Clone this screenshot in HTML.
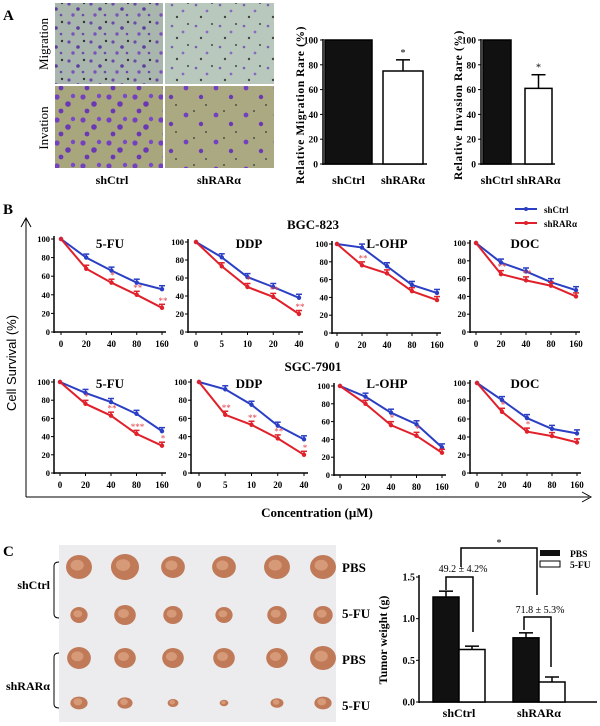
<!DOCTYPE html>
<html><head><meta charset="utf-8"><style>
html,body{margin:0;padding:0;background:#fff}
svg{display:block;font-family:"Liberation Serif","DejaVu Serif",serif;font-weight:bold}
</style></head><body>
<svg id="fig" width="600" height="726" viewBox="0 0 600 726" xmlns="http://www.w3.org/2000/svg">
<defs>
<pattern id="migA" width="22" height="19" patternUnits="userSpaceOnUse"><rect width="22" height="19" fill="#a9b6ae"/><circle cx="3" cy="4" r="1.6" fill="#6a4aa8"/><circle cx="12" cy="9" r="1.8" fill="#5b3d9c"/><circle cx="18" cy="3" r="1.2" fill="#333"/><circle cx="7" cy="15" r="1.7" fill="#7a55b8"/><circle cx="17" cy="15" r="1.3" fill="#6a4aa8"/></pattern>
<pattern id="migB" width="24" height="21" patternUnits="userSpaceOnUse"><rect width="24" height="21" fill="#b9c8bd"/><circle cx="4" cy="5" r="1.3" fill="#7a60b0"/><circle cx="15" cy="11" r="1.4" fill="#8a6ac0"/><circle cx="20" cy="3" r="1" fill="#444"/><circle cx="9" cy="17" r="1.2" fill="#444"/></pattern>
<pattern id="invA" width="26" height="23" patternUnits="userSpaceOnUse"><rect width="26" height="23" fill="#a7a67c"/><circle cx="5" cy="5" r="2.6" fill="#7540c0"/><circle cx="16" cy="12" r="2.8" fill="#6a38b5"/><circle cx="21" cy="4" r="2.2" fill="#7a48c8"/><circle cx="9" cy="19" r="2.4" fill="#6a38b5"/></pattern>
<pattern id="invB" width="30" height="27" patternUnits="userSpaceOnUse"><rect width="30" height="27" fill="#aaa981"/><circle cx="6" cy="7" r="2.4" fill="#7540c0"/><circle cx="21" cy="16" r="2.2" fill="#6a38b5"/><circle cx="14" cy="3" r="0.9" fill="#333"/><circle cx="26" cy="24" r="0.9" fill="#333"/></pattern>
</defs>
<g id="root"></g>
</svg>
<script>
// ---- Panel A data ----
const aCats = ["shCtrl", "shRARα"];
const migVals = [100, 75];
const migErr = [0, 84];
const invVals = [100, 61];
const invErr = [0, 72];
const aTicks = [0, 20, 40, 60, 80, 100];
// ---- Panel B data ----
const concStd = ["0", "20", "40", "80", "160"];
const concDDP = ["0", "5", "10", "20", "40"];
const bTicks = [0, 20, 40, 60, 80, 100];
const bgcTitles = ["5-FU", "DDP", "L-OHP", "DOC"];
const bgcCtrl = [[100,80,66,53,46],[100,83,61,50,38],[100,96,75,54,45],[100,78,68,56,47]];
const bgcKd = [[100,68,53,40,26],[100,73,50,39,20],[100,76,67,47,37],[100,65,58,52,40]];
const bgcStars = [["","","*","**","**"],["","","*","**","**"],["","**","","",""],["","**","**","",""]];
const sgcCtrl = [[100,88,78,65,46],[100,92,75,52,37],[100,88,70,57,31],[100,81,61,49,44]];
const sgcKd = [[100,76,63,43,30],[100,64,53,38,20],[100,80,56,44,25],[100,68,46,41,34]];
const sgcStars = [["","*","**","***","*"],["","**","**","**","*"],["","","*","*",""],["","*","*","",""]];
// ---- Panel C data ----
const cCats = ["shCtrl", "shRARα"];
const cPBS = [1.26, 0.77];
const cPBSerr = [1.33, 0.83];
const cFU = [0.63, 0.24];
const cFUerr = [0.67, 0.30];
const cTicks = ["0.0", "0.5", "1.0", "1.5"];

const NS="http://www.w3.org/2000/svg";
const root=document.getElementById('root');
function mk(tag,attrs,parent,txt){const e=document.createElementNS(NS,tag);for(const k in attrs)e.setAttribute(k,attrs[k]);if(txt!==undefined)e.textContent=txt;(parent||root).appendChild(e);return e;}
function grp(name){const g=mk('g',{});return g;}

[["A",3,20],["B",3,214],["C",3,556]].forEach(l=>{const t=mk('text',{x:l[1],y:l[2],'font-size':15},root,l[0]);});

// Micrographs
const mg=grp('micrographs');
[["migA",55,3,108,81],["migB",165,3,109,81],["invA",55,86,108,82],["invB",165,86,109,82]].forEach((m,i)=>{const r=mk('rect',{x:m[1],y:m[2],width:m[3],height:m[4],fill:'url(#'+m[0]+')'},mg);});
let t=mk('text',{x:0,y:0,'font-size':13,'font-weight':'normal','text-anchor':'middle',transform:'translate(48,44) rotate(-90)'},mg,'Migration');

t=mk('text',{x:0,y:0,'font-size':13,'font-weight':'normal','text-anchor':'middle',transform:'translate(48,128) rotate(-90)'},mg,'Invation');

t=mk('text',{x:112,y:184,'font-size':12,'text-anchor':'middle'},mg,'shCtrl');

t=mk('text',{x:219,y:184,'font-size':12,'text-anchor':'middle'},mg,'shRARα');


// Bar charts A
function barA(name,ax,xEnd,b1,b2,vals,errs,title,tx){
  const g=grp(name);
  const y=v=>164-(v/100)*124;
  mk('line',{x1:ax,y1:39,x2:ax,y2:165,stroke:'#000','stroke-width':1.5},g);
  mk('line',{x1:ax,y1:164,x2:xEnd,y2:164,stroke:'#000','stroke-width':1.5},g);
  aTicks.forEach(tk=>{mk('line',{x1:ax-3,y1:y(tk),x2:ax,y2:y(tk),stroke:'#000'},g);mk('text',{x:ax-5,y:y(tk)+3.5,'font-size':9.5,'text-anchor':'end'},g,tk);});
  const bars=[b1,b2];
  vals.forEach((v,i)=>{const bb=bars[i];
    const r=mk('rect',{x:bb[0],y:y(v),width:bb[1]-bb[0],height:164-y(v),fill:i==0?'#111':'#fff',stroke:'#000','stroke-width':1.5},g);
    
    if(errs[i]>v){const cx=(bb[0]+bb[1])/2;mk('line',{x1:cx,y1:y(v),x2:cx,y2:y(errs[i]),stroke:'#000','stroke-width':1.5},g);mk('line',{x1:cx-7,y1:y(errs[i]),x2:cx+7,y2:y(errs[i]),stroke:'#000','stroke-width':1.5},g);mk('text',{x:cx,y:y(errs[i])-4,'font-size':10,'font-weight':'normal','text-anchor':'middle'},g,'*');}
    mk('text',{x:(bb[0]+bb[1])/2,y:184,'font-size':12,'text-anchor':'middle'},g,aCats[i]);
  });
  const tt=mk('text',{x:0,y:0,'font-size':11.5,'text-anchor':'middle','letter-spacing':'0.6',transform:'translate('+tx+',105) rotate(-90)'},g,title);
  
}
barA('migration-bar-chart',323,427,[325,372],[383,423],migVals,migErr,'Relative Migration Rare (%)',304);
barA('invasion-bar-chart',481,555,[483,511],[525,552],invVals,invErr,'Relative Invasion Rare (%)',462);

// Panel B
const pb=grp('panel-b');
mk('line',{x1:26,y1:219,x2:26,y2:497,stroke:'#000','stroke-width':1},pb);
mk('path',{d:'M21,227 L26,218 L31,227',fill:'none',stroke:'#000'},pb);
mk('line',{x1:26,y1:497,x2:589,y2:497,stroke:'#000','stroke-width':1},pb);
mk('path',{d:'M582,492 L591,497 L582,502',fill:'none',stroke:'#000'},pb);
t=mk('text',{x:0,y:0,'font-size':13,'font-family':'Liberation Sans, sans-serif','font-weight':'normal','text-anchor':'middle',transform:'translate(16,363) rotate(-90)'},pb,'Cell Survival (%)');

t=mk('text',{x:317,y:517,'font-size':13,'text-anchor':'middle'},pb,'Concentration (μM)');

t=mk('text',{x:313,y:229,'font-size':13,'text-anchor':'middle'},pb,'BGC-823');

t=mk('text',{x:313,y:371,'font-size':13,'text-anchor':'middle'},pb,'SGC-7901');

const lg=grp('legend');
mk('line',{x1:515,y1:209,x2:537,y2:209,stroke:'#2b3fc4','stroke-width':2},lg);mk('circle',{cx:526,cy:209,r:2,fill:'#2b3fc4'},lg);
mk('text',{x:544,y:213,'font-size':9},lg,'shCtrl');
mk('line',{x1:515,y1:223,x2:537,y2:223,stroke:'#e0202a','stroke-width':2},lg);mk('circle',{cx:526,cy:223,r:2,fill:'#e0202a'},lg);
mk('text',{x:544,y:227,'font-size':9},lg,'shRARα');

function linePlot(name,ax,y100,y0,x0,x1,labels,ctrl,kd,stars,title,tx,ty){
  const g=grp(name);
  const ys=v=>y0-(v/100)*(y0-y100);
  const xs=i=>x0+i*(x1-x0)/(labels.length-1);
  mk('line',{x1:ax,y1:y100-3,x2:ax,y2:y0+1,stroke:'#000','stroke-width':1.5},g);
  mk('line',{x1:ax,y1:y0,x2:x1+4,y2:y0,stroke:'#000','stroke-width':1.5},g);
  bTicks.forEach(tk=>{mk('line',{x1:ax-3,y1:ys(tk),x2:ax,y2:ys(tk),stroke:'#000'},g);mk('text',{x:ax-4,y:ys(tk)+3,'font-size':8.5,'text-anchor':'end'},g,tk);});
  labels.forEach((l,i)=>{mk('line',{x1:xs(i),y1:y0,x2:xs(i),y2:y0+3,stroke:'#000'},g);mk('text',{x:xs(i),y:y0+15,'font-size':9,'text-anchor':'middle'},g,l);});
  [[ctrl,'#2b3fc4','shctrl'],[kd,'#e0202a','shrara']].forEach(s=>{
    const p=mk('polyline',{points:s[0].map((v,i)=>xs(i)+','+ys(v)).join(' '),fill:'none',stroke:s[1],'stroke-width':2},g);
    
    s[0].forEach((v,i)=>{mk('circle',{cx:xs(i),cy:ys(v),r:2.2,fill:s[1]},g);if(i>0){mk('line',{x1:xs(i),y1:ys(v),x2:xs(i),y2:ys(v)-3.5,stroke:s[1],'stroke-width':1.5},g);mk('line',{x1:xs(i)-3,y1:ys(v)-3.5,x2:xs(i)+3,y2:ys(v)-3.5,stroke:s[1],'stroke-width':1.5},g);}});
  });
  stars.forEach((s,i)=>{if(s)mk('text',{x:xs(i)+1,y:ys(kd[i])-4,'font-size':9,fill:'#e04048','text-anchor':'middle','font-weight':'normal'},g,s);});
  mk('text',{x:tx,y:ty,'font-size':13,'text-anchor':'middle'},g,title);
}
const row1=[[54,239,332,61,162,110],[188,242,332,196,299,249],[332,244,333,337,437,387],[470,243,332,476,576,525]];
const row2=[[54,382,473,60,162,110],[191,382,473,199,304,249],[334,386,475,340,442,387],[470,383,473,477,577,525]];
row1.forEach((r,i)=>linePlot('bgc-'+bgcTitles[i].toLowerCase()+'-plot',r[0],r[1],r[2],r[3],r[4],i==1?concDDP:concStd,bgcCtrl[i],bgcKd[i],bgcStars[i],bgcTitles[i],r[5],248));
row2.forEach((r,i)=>linePlot('sgc-'+bgcTitles[i].toLowerCase()+'-plot',r[0],r[1],r[2],r[3],r[4],i==1?concDDP:concStd,sgcCtrl[i],sgcKd[i],sgcStars[i],bgcTitles[i],r[5],388));

// Panel C photo
const ph=grp('tumor-photo');
mk('rect',{x:59,y:545,width:277,height:177,fill:'#ececee'},ph);
const cols=[79,125,173,224,277,323], rows=[567,615,658,703];
const sizes=[[12,13,11,11,12,12],[8,10,9,8,9,9],[11,10,10,10,10,12],[8,7,5,4,6,8]];
rows.forEach((ry,ri)=>cols.forEach((cx,ci)=>{const rr=sizes[ri][ci];mk('ellipse',{cx:cx,cy:ry,rx:rr*1.08,ry:rr*(ri==3?0.8:1),fill:'#c07a58'},ph);mk('ellipse',{cx:cx-rr*0.15,cy:ry-rr*0.15,rx:rr*0.55,ry:rr*0.45,fill:'#d79a78'},ph);}));
const cl=grp('tumor-labels');
[['PBS',567],['5-FU',613],['PBS',659],['5-FU',705]].forEach(l=>mk('text',{x:342,y:l[1]+5,'font-size':13},cl,l[0]));
mk('path',{d:'M59,562 Q54,562 54,566 L54,614 Q54,618 59,618',fill:'none',stroke:'#000'},cl);
mk('path',{d:'M59,653 Q54,653 54,657 L54,704 Q54,708 59,708',fill:'none',stroke:'#000'},cl);
mk('text',{x:50,y:589,'font-size':12,'text-anchor':'end'},cl,'shCtrl');
mk('text',{x:50,y:690,'font-size':12,'text-anchor':'end'},cl,'shRARα');

// Panel C bar chart
const cg=grp('tumor-weight-chart');
const cy=v=>702-(v/1.5)*125;
mk('line',{x1:419,y1:575,x2:419,y2:703,stroke:'#000','stroke-width':1.5},cg);
mk('line',{x1:419,y1:702,x2:597,y2:702,stroke:'#000','stroke-width':1.5},cg);
cTicks.forEach(tk=>{const v=parseFloat(tk);mk('line',{x1:416,y1:cy(v),x2:419,y2:cy(v),stroke:'#000'},cg);mk('text',{x:415,y:cy(v)+3.5,'font-size':10,'text-anchor':'end'},cg,tk);});
const gx=[433,513];
cCats.forEach((c,i)=>{
  [[cPBS[i],cPBSerr[i],'#111','pbs',0],[cFU[i],cFUerr[i],'#fff','5fu',26]].forEach(b=>{
    const r=mk('rect',{x:gx[i]+b[4],y:cy(b[0]),width:26,height:702-cy(b[0]),fill:b[2],stroke:'#000','stroke-width':1.5},cg);
    
    const cx=gx[i]+b[4]+13;mk('line',{x1:cx,y1:cy(b[0]),x2:cx,y2:cy(b[1]),stroke:'#000','stroke-width':1.5},cg);mk('line',{x1:cx-7,y1:cy(b[1]),x2:cx+7,y2:cy(b[1]),stroke:'#000','stroke-width':1.5},cg);
  });
  mk('text',{x:gx[i]+26,y:717,'font-size':12,'text-anchor':'middle'},cg,c);
});
t=mk('text',{x:0,y:0,'font-size':12,'text-anchor':'middle',transform:'translate(387,640) rotate(-90)'},cg,'Tumor weight (g)');

mk('path',{d:'M446,590 L446,577 L473,577 L473,632',fill:'none',stroke:'#000','stroke-width':1.5},cg);
mk('text',{x:463,y:572,'font-size':10,'text-anchor':'middle','font-weight':'normal'},cg,'49.2 ± 4.2%');
mk('path',{d:'M524,630 L524,617 L551,617 L551,667',fill:'none',stroke:'#000','stroke-width':1.5},cg);
mk('text',{x:540,y:613,'font-size':10,'text-anchor':'middle','font-weight':'normal'},cg,'71.8 ± 5.3%');
mk('path',{d:'M461,567 L461,548 L537,548 L537,595',fill:'none',stroke:'#000','stroke-width':1.5},cg);
mk('text',{x:499,y:546,'font-size':10,'text-anchor':'middle','font-weight':'normal'},cg,'*');
const cl2=grp('tumor-legend');
mk('rect',{x:540,y:550,width:20,height:6,fill:'#111'},cl2);mk('text',{x:570,y:557,'font-size':9.5},cl2,'PBS');
mk('rect',{x:540,y:561,width:20,height:6,fill:'#fff',stroke:'#000'},cl2);mk('text',{x:570,y:568,'font-size':9.5},cl2,'5-FU');
</script>
</body></html>
